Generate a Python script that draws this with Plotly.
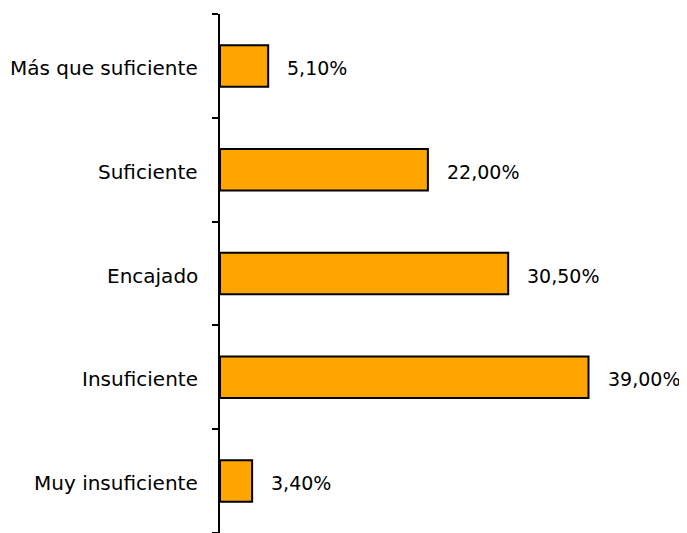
import plotly.graph_objects as go

categories = ["Muy insuficiente", "Insuficiente", "Encajado", "Suficiente", "Más que suficiente"]
values = [3.4, 39.0, 30.5, 22.0, 5.1]
value_labels = ["3,40%", "39,00%", "30,50%", "22,00%", "5,10%"]

font_family = "DejaVu Sans"
cat_font = dict(family=font_family, size=20, color="black")
val_font = dict(family=font_family, size=19, color="black")

fig = go.Figure()

fig.add_trace(go.Bar(
    x=values, y=categories, orientation="h",
    marker=dict(color="#FFA500", line=dict(color="black", width=2)),
    width=0.4, showlegend=False, hoverinfo="skip",
))

# value labels right of the bars, category labels left of the axis
for v, c, t in zip(values, categories, value_labels):
    fig.add_annotation(x=v, y=c, text=t, showarrow=False,
                       xanchor="left", xshift=17, yshift=-2, font=val_font)
    fig.add_annotation(x=0, xref="paper", y=c, text=c, showarrow=False,
                       xanchor="right", xshift=-20, yshift=-2, font=cat_font)

fig.update_xaxes(range=[0, 49], visible=False, showgrid=False, zeroline=False)
fig.update_yaxes(categoryorder="array", categoryarray=categories,
                 range=[-0.5, 4.5], showline=True, linecolor="black", linewidth=2,
                 ticks="outside", tickson="boundaries", ticklen=6, tickwidth=2,
                 tickcolor="black", showgrid=False, zeroline=False,
                 automargin=False, showticklabels=False)

fig.update_layout(width=679, height=525,
                  margin=dict(l=212, r=4, t=6, b=0),
                  plot_bgcolor="white", paper_bgcolor="white",
                  font=dict(family=font_family))

fig.write_html("out.html")
